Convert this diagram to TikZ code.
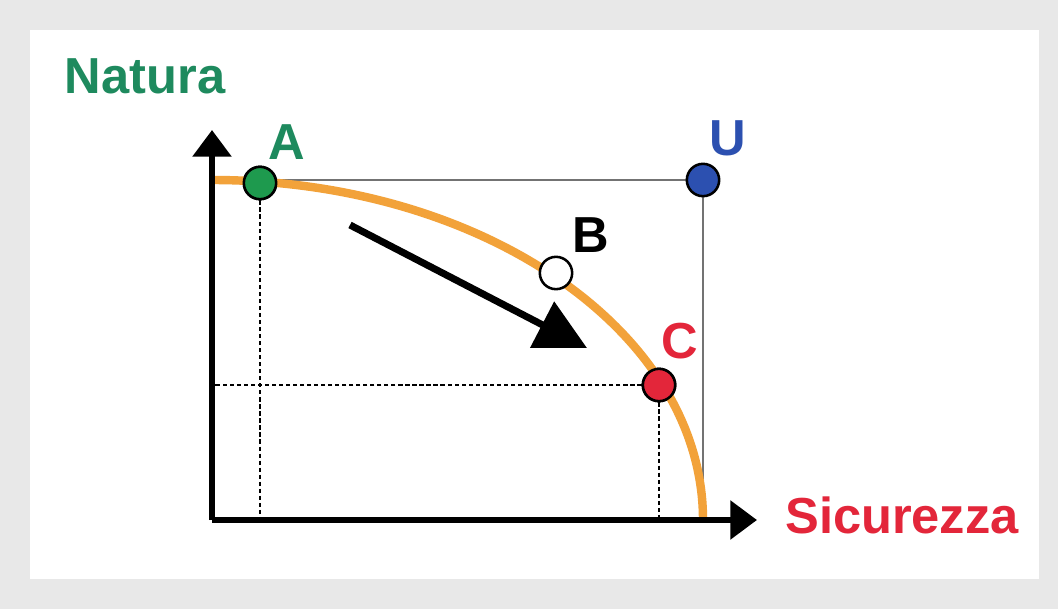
\documentclass[tikz,border=0pt]{standalone}
\usepackage{fontspec}
\setmainfont{Liberation Sans}
\usetikzlibrary{positioning, arrows.meta}
\definecolor{natgreen}{HTML}{1E8A5E}
\definecolor{ptgreen}{HTML}{1E9A4E}
\definecolor{sicred}{HTML}{E3263A}
\definecolor{ublue}{HTML}{2C50B0}
\definecolor{curveorange}{HTML}{F2A23A}
\definecolor{panelgray}{HTML}{E8E8E8}
\tikzset{
  pt/.style={circle,draw=black,line width=1.8pt,minimum size=23pt,inner sep=0pt},
  lbl/.style={font=\bfseries\fontsize{36}{40}\selectfont,inner sep=0pt},
  axis/.style={line width=4.3pt,-{Triangle[length=19pt,width=27pt]}},
  guide/.style={line width=1.8pt,dash pattern=on 3pt off 2pt}
}

\begin{document}
\begin{tikzpicture}[x=0.025cm,y=-0.025cm]
  \fill[panelgray](0,0) rectangle (1058,609);
  \fill[white](30,30) rectangle (1039,579);
  \coordinate (O) at (212,520);
  \coordinate (ytip) at (212,130);
  \coordinate (xtip) at (757,520);
  \coordinate (ucorner) at (703,180);
  % box up to U
  \draw[black!55,line width=1.3pt](212,180) -- (ucorner) -- (703,520);
  % guide lines
  \node[pt,fill=ptgreen](A) at (260,183) {};
  \node[pt,fill=sicred](C) at (659,385) {};
  \draw[guide](A) -- (A |- O);
  \draw[guide](C) -- (C -| O);
  \draw[guide](C) -- (C |- O);
  % frontier
  \draw[curveorange,line width=6pt](212,180) arc[start angle=-90,end angle=0,x radius=491,y radius=340];
  \draw[axis](O) -- (ytip);
  \draw[axis](O) -- (xtip);
  \node[pt,fill=ptgreen] at (A) {};
  \node[pt,fill=sicred] at (C) {};
  \node[pt,fill=white](B) at (556,273) {};
  \node[pt,fill=ublue](U) at (ucorner) {};
  % shift arrow
  \coordinate (from) at (350,225);
  \coordinate (to) at (587,348);
  \draw[line width=5pt,-{Triangle[length=36pt,width=36pt]}](from) -- (to);
  % labels
  \node[lbl,text=natgreen](natura) at (145,76) {Natura};
  \node[lbl,text=sicred](sicurezza) at (902,515) {Sicurezza};
  \node[lbl,text=natgreen](labA) at (287,142) {A};
  \node[lbl](labB) at (591,235) {B};
  \node[lbl,text=sicred](labC) at (680,341) {C};
  \node[lbl,text=ublue](labU) at (728,138) {U};
\end{tikzpicture}
\end{document}
